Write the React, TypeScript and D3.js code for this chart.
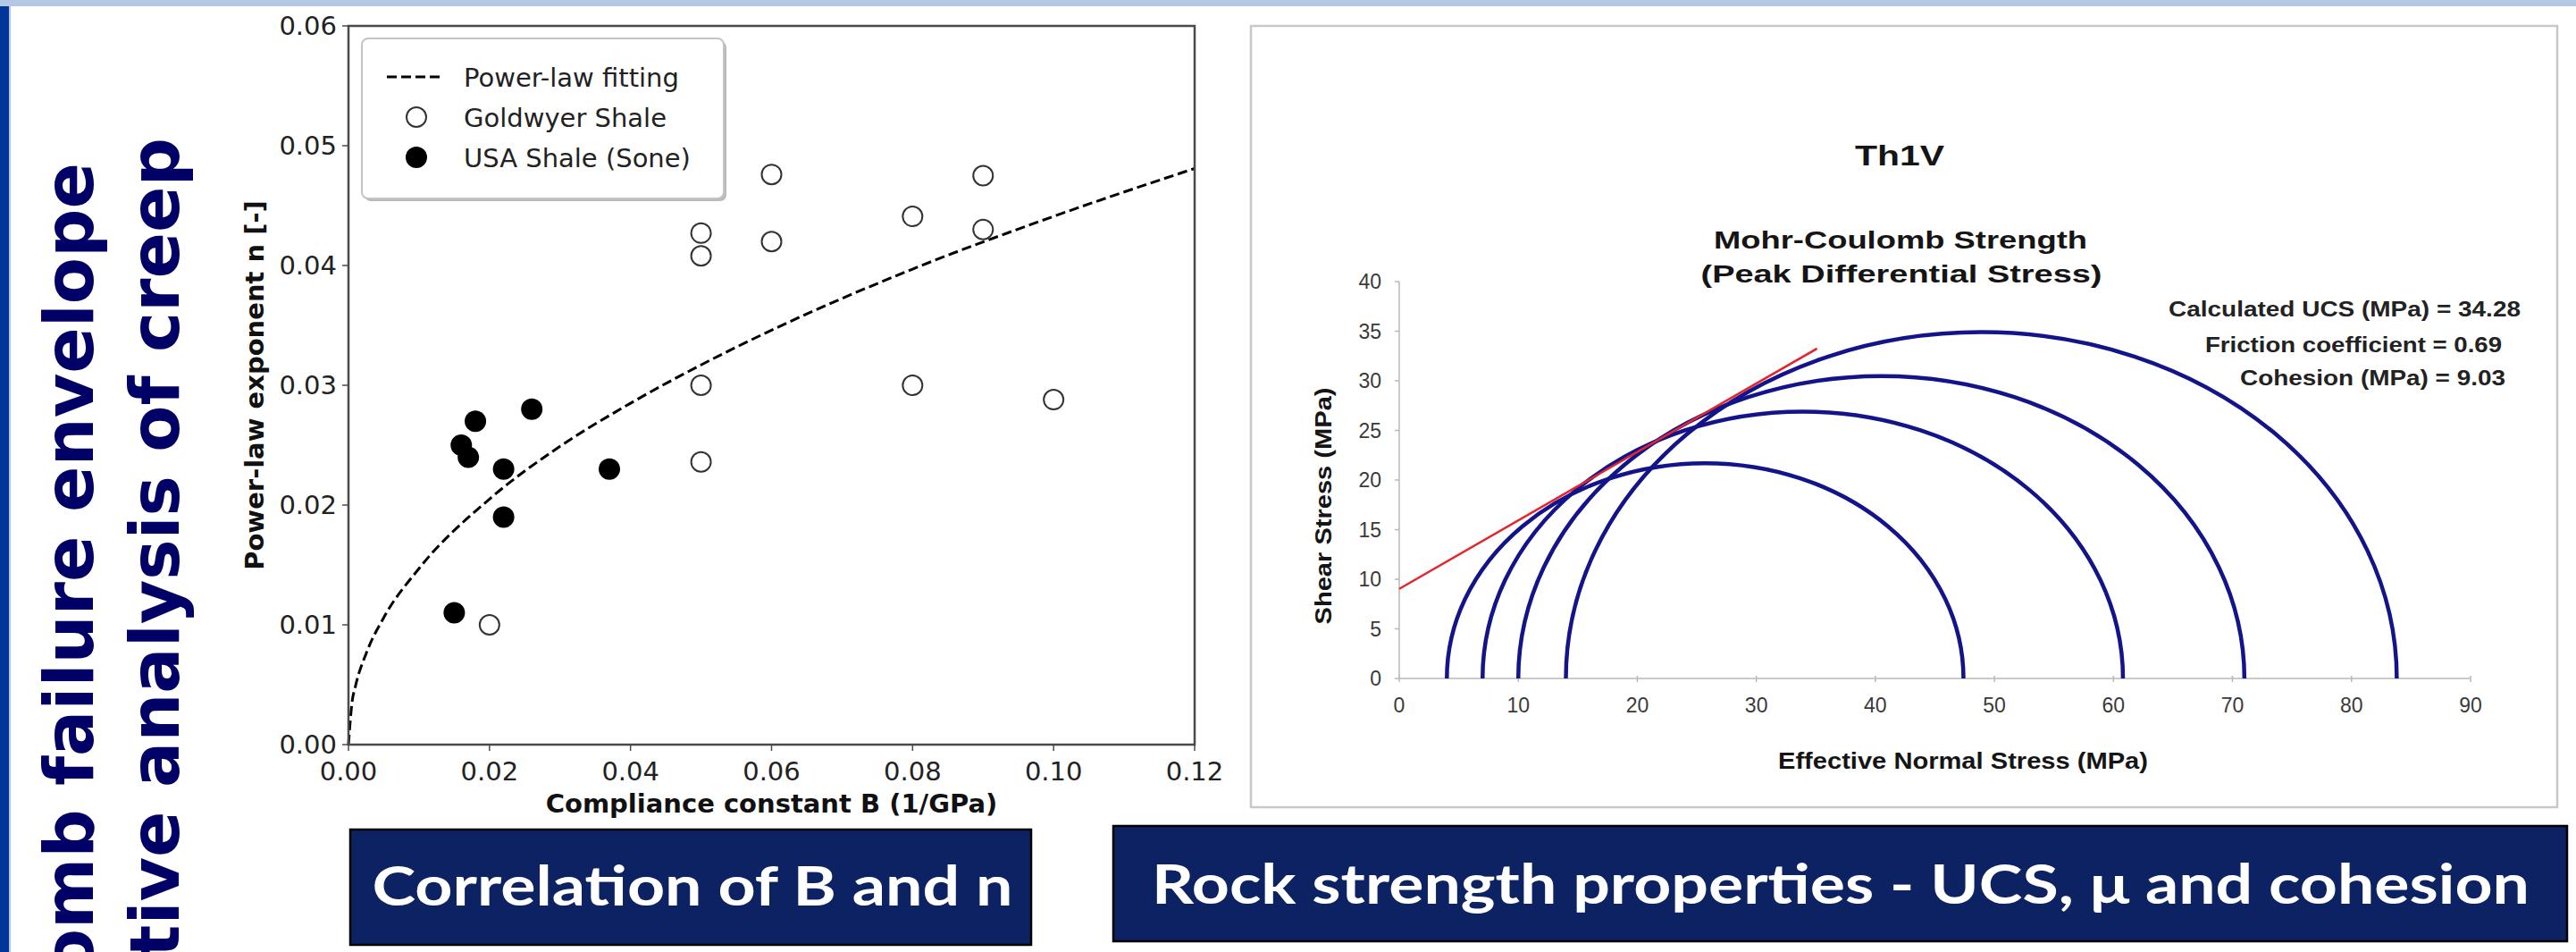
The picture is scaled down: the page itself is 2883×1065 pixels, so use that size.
import React from 'react';
import * as d3 from 'd3';

// left panel: creep parameters
const goldwyerB = [0.02, 0.05, 0.05, 0.05, 0.05, 0.06, 0.06, 0.08, 0.08, 0.09, 0.09, 0.10];
const goldwyerN = [0.0100, 0.0236, 0.0300, 0.0408, 0.0427, 0.0420, 0.0476, 0.0300, 0.0441, 0.0430, 0.0475, 0.0288];

const usaB = [0.015, 0.016, 0.017, 0.018, 0.022, 0.022, 0.026, 0.037];
const usaN = [0.011, 0.025, 0.024, 0.027, 0.023, 0.019, 0.028, 0.023];

const fitB = [0, 0.0005, 0.001, 0.0025, 0.005, 0.01, 0.02, 0.03, 0.04, 0.05, 0.06, 0.08, 0.10, 0.12];
const fitN = [0, 0.0035, 0.0049, 0.0076, 0.0106, 0.0147, 0.0205, 0.0249, 0.0285, 0.0317, 0.0346, 0.0397, 0.0441, 0.0481];

const bTicks = [0, 0.02, 0.04, 0.06, 0.08, 0.10, 0.12];
const nTicks = [0, 0.01, 0.02, 0.03, 0.04, 0.05, 0.06];

// right panel: Mohr circles
const sigma3 = [4, 7, 10, 14];
const sigma1 = [47.4, 60.8, 71.0, 83.8];
const envelopeX = [0, 35.1];
const envelopeY = [9.03, 33.25];
const stressTicks = [0, 10, 20, 30, 40, 50, 60, 70, 80, 90];
const shearTicks = [0, 5, 10, 15, 20, 25, 30, 35, 40];
const resultLabels = ['Calculated UCS (MPa) =  34.28', 'Friction coefficient = 0.69', 'Cohesion (MPa) =  9.03'];

const W = 2883;
const H = 1065;

function CreepChart() {
  const x = d3.scaleLinear().domain([0, 0.12]).range([390, 1337]);
  const y = d3.scaleLinear().domain([0, 0.06]).range([833, 29]);
  const fmt = d3.format('.2f');
  const fitLine = d3.line<number>()
    .x((d, i) => x(fitB[i]))
    .y((d) => y(d))
    .curve(d3.curveMonotoneX);
  const font = 'DejaVu Sans, sans-serif';
  const axisColor = '#4a4a4a';

  return (
    <g fontFamily={font} fill="#222">
      <rect x={x(0)} y={y(0.06)} width={x(0.12) - x(0)} height={y(0) - y(0.06)} fill="#fff" stroke="none" />
      <path d={fitLine(fitN) || ''} fill="none" stroke="#000" strokeWidth={3} strokeDasharray="11,5" />
      {goldwyerB.map((b, i) => (
        <circle key={'g' + i} cx={x(b)} cy={y(goldwyerN[i])} r={11} fill="none" stroke="#333" strokeWidth={2} />
      ))}
      {usaB.map((b, i) => (
        <circle key={'u' + i} cx={x(b)} cy={y(usaN[i])} r={12} fill="#000" />
      ))}
      <rect x={x(0)} y={y(0.06)} width={x(0.12) - x(0)} height={y(0) - y(0.06)} fill="none" stroke={axisColor} strokeWidth={2.5} />

      {bTicks.map((t) => (
        <g key={'bx' + t}>
          <line x1={x(t)} x2={x(t)} y1={y(0)} y2={y(0) + 7} stroke={axisColor} strokeWidth={1.5} />
          <text x={x(t)} y={873} textAnchor="middle" fontSize={29}>{fmt(t)}</text>
        </g>
      ))}
      {nTicks.map((t) => (
        <g key={'ny' + t}>
          <line x1={x(0) - 7} x2={x(0)} y1={y(t)} y2={y(t)} stroke={axisColor} strokeWidth={1.5} />
          <text x={377} y={y(t)} dy="0.36em" textAnchor="end" fontSize={29}>{fmt(t)}</text>
        </g>
      ))}
      <text x={(x(0) + x(0.12)) / 2} y={909} textAnchor="middle" fontSize={29} fontWeight="bold" fill="#111">
        Compliance constant B (1/GPa)
      </text>
      <text transform={`translate(295,${(y(0) + y(0.06)) / 2}) rotate(-90)`} textAnchor="middle" fontSize={29} fontWeight="bold" fill="#111">
        Power-law exponent n [-]
      </text>

      <g>
        <rect x={408} y={46} width={405} height={179} rx={7} fill="#8a8a8a" opacity={0.6} />
        <rect x={405} y={43} width={405} height={179} rx={7} fill="#fff" stroke="#c4c4c4" strokeWidth={2} />
        <line x1={433} x2={494} y1={86} y2={86} stroke="#000" strokeWidth={3} strokeDasharray="11,5" />
        <text x={519} y={97} fontSize={29}>Power-law fitting</text>
        <circle cx={466} cy={131} r={11} fill="none" stroke="#333" strokeWidth={2} />
        <text x={519} y={142} fontSize={29}>Goldwyer Shale</text>
        <circle cx={466} cy={176} r={12} fill="#000" />
        <text x={519} y={187} fontSize={29}>USA Shale (Sone)</text>
      </g>
    </g>
  );
}

function MohrChart() {
  const x = d3.scaleLinear().domain([0, 90]).range([1566, 2765]);
  const y = d3.scaleLinear().domain([0, 40]).range([759, 315]);
  const envelope = d3.line<number>()
    .x((d) => x(d))
    .y((d, i) => y(envelopeY[i]));
  const font = 'Liberation Sans, Arial, sans-serif';
  const gridColor = '#b8b8b8';
  const resultX = [2821, 2800, 2804];
  const resultW = [394, 332, 297];
  const resultY = [354, 394, 431];

  return (
    <g fontFamily={font}>
      <rect x={1400} y={29} width={1462} height={874} fill="#fff" stroke="#c8c8c8" strokeWidth={2.5} />

      <line x1={x(0)} x2={x(90)} y1={y(0)} y2={y(0)} stroke={gridColor} strokeWidth={1.5} />
      <line x1={x(0)} x2={x(0)} y1={y(0)} y2={y(40)} stroke={gridColor} strokeWidth={1.5} />
      {stressTicks.map((t) => (
        <g key={'sx' + t}>
          <line x1={x(t)} x2={x(t)} y1={y(0) - 3} y2={y(0) + 4} stroke={gridColor} strokeWidth={1.5} />
          <text x={x(t)} y={797} textAnchor="middle" fontSize={23} fill="#3a3a3a">{t}</text>
        </g>
      ))}
      {shearTicks.map((t) => (
        <g key={'sy' + t}>
          <line x1={x(0) - 5} x2={x(0)} y1={y(t)} y2={y(t)} stroke={gridColor} strokeWidth={1.5} />
          <text x={1546} y={y(t)} dy="0.36em" textAnchor="end" fontSize={23} fill="#3a3a3a">{t}</text>
        </g>
      ))}

      {sigma3.map((s3, i) => {
        const s1 = sigma1[i];
        const rx = (x(s1) - x(s3)) / 2;
        const ry = y(0) - y((s1 - s3) / 2);
        return (
          <path key={'c' + i}
            d={`M${x(s3)},${y(0)} A${rx},${ry} 0 0 1 ${x(s1)},${y(0)}`}
            fill="none" stroke="#14148a" strokeWidth={4.5} />
        );
      })}
      <path d={envelope(envelopeX) || ''} fill="none" stroke="#e3262d" strokeWidth={2.5} />

      <text x={2126} y={185} textAnchor="middle" fontSize={31} fontWeight="bold" fill="#151515" textLength={100} lengthAdjust="spacingAndGlyphs">Th1V</text>
      <text x={2127} y={278} textAnchor="middle" fontSize={28} fontWeight="bold" fill="#151515" textLength={418} lengthAdjust="spacingAndGlyphs">Mohr-Coulomb Strength</text>
      <text x={2128} y={316} textAnchor="middle" fontSize={28} fontWeight="bold" fill="#151515" textLength={449} lengthAdjust="spacingAndGlyphs">(Peak Differential Stress)</text>
      {resultLabels.map((s, i) => (
        <text key={'r' + i} x={resultX[i]} y={resultY[i]} textAnchor="end" fontSize={24} fontWeight="bold" fill="#222"
          textLength={resultW[i]} lengthAdjust="spacingAndGlyphs">{s}</text>
      ))}
      <text x={2197} y={860} textAnchor="middle" fontSize={26} fontWeight="bold" fill="#151515" textLength={414} lengthAdjust="spacingAndGlyphs">
        Effective Normal Stress (MPa)
      </text>
      <text transform="translate(1490,566) rotate(-90)" textAnchor="middle" fontSize={26} fontWeight="bold" fill="#151515" textLength={265} lengthAdjust="spacingAndGlyphs">
        Shear Stress (MPa)
      </text>
    </g>
  );
}

function Captions() {
  const font = 'Lato, Open Sans, sans-serif';
  return (
    <g fontFamily={font} fontWeight="bold" fill="#fff">
      <rect x={392} y={928} width={762} height={129} fill="#0c2262" stroke="#000" strokeWidth={2.5} />
      <text x={775} y={1013} textAnchor="middle" fontSize={62} textLength={717} lengthAdjust="spacingAndGlyphs">Correlation of B and n</text>
      <rect x={1246} y={924} width={1627} height={129} fill="#0c2262" stroke="#000" strokeWidth={2.5} />
      <text x={2060} y={1011} textAnchor="middle" fontSize={62} textLength={1542} lengthAdjust="spacingAndGlyphs">Rock strength properties - UCS, μ and cohesion</text>
    </g>
  );
}

export default function App() {
  return (
    <svg width={W} height={H} style={{ position: 'absolute', left: 0, top: 0, background: '#fff' }}>
      <rect x={0} y={0} width={W} height={7} fill="#b4c7e7" />
      <rect x={0} y={7} width={10} height={H - 7} fill="#00359a" />
      <rect x={10} y={7} width={2} height={H - 7} fill="#b4c7e7" />
      <g fontFamily="DejaVu Sans, sans-serif" fontWeight="bold" fontSize={76} fill="#000066">
        <text transform="translate(104,182) rotate(-90)" textAnchor="end">Mohr-Coulomb failure envelope</text>
        <text transform="translate(200,154) rotate(-90)" textAnchor="end">Quantitative analysis of creep</text>
      </g>
      <CreepChart />
      <MohrChart />
      <Captions />
    </svg>
  );
}
